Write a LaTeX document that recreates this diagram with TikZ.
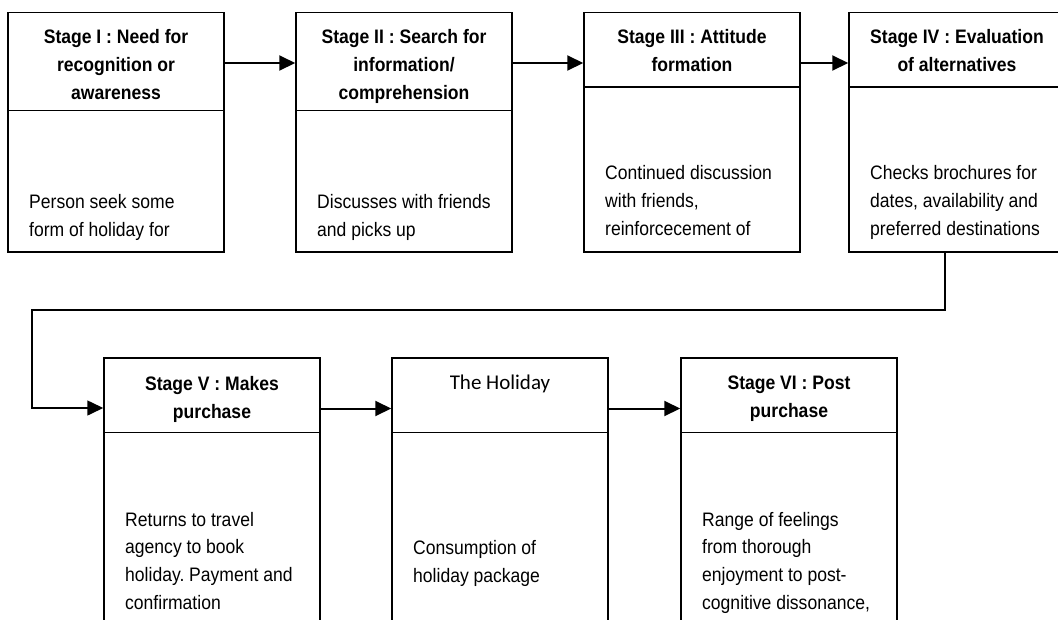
\documentclass[tikz,border=0pt]{standalone}
\usepackage{fontspec}
\newfontfamily\arialn[FakeStretch=0.9]{Liberation Sans}
\newfontfamily\calib{Carlito}
\usetikzlibrary{arrows.meta}
\frenchspacing
\newcommand\clines[1]{\vtop{\baselineskip=28pt\halign{\hfil##\hfil\cr#1\crcr}}}
\newcommand\llines[1]{\vtop{\baselineskip=27.8pt\halign{##\hfil\cr#1\crcr}}}
\tikzset{
  stagebox/.style={draw, line width=1.5pt, minimum width=216pt, inner sep=0pt},
  hdr/.style={inner sep=0pt, anchor=base, font=\arialn\bfseries\fontsize{19.5}{28}\selectfont},
  bodytext/.style={inner sep=0pt, anchor=base west, font=\arialn\fontsize{19.5}{28}\selectfont},
  flow/.style={line width=2pt, -{Triangle[length=16pt,width=15pt]}},
  divider/.style={line width=1.5pt},
}
\begin{document}
\begin{tikzpicture}[x=1pt,y=-1pt]
\useasboundingbox (0,0) rectangle (1058,619);
\clip (0,0) rectangle (1058,619);
% top row boxes
\node[stagebox, minimum height=239.5pt] (s1) at (116,132.25) {};
\node[stagebox, minimum height=239.5pt] (s2) at (404,132.25) {};
\node[stagebox, minimum height=239.5pt] (s3) at (692,132.25) {};
\node[stagebox, minimum height=239.5pt] (s4) at (957,132.25) {};
% bottom row boxes
\node[stagebox, minimum height=292pt] (s5) at (212,504) {};
\node[stagebox, minimum height=292pt] (s6) at (500,504) {};
\node[stagebox, minimum height=292pt] (s7) at (789,504) {};
% dividers
\draw[divider] (s1.west |- 0,110.5) -- (s1.east |- 0,110.5);
\draw[divider] (s2.west |- 0,110.5) -- (s2.east |- 0,110.5);
\draw[divider] (s3.west |- 0,87) -- (s3.east |- 0,87);
\draw[divider] (s4.west |- 0,87) -- (s4.east |- 0,87);
\draw[divider] (s5.west |- 0,432.5) -- (s5.east |- 0,432.5);
\draw[divider] (s6.west |- 0,432.5) -- (s6.east |- 0,432.5);
\draw[divider] (s7.west |- 0,432.5) -- (s7.east |- 0,432.5);
% headers
\node[hdr] (h1) at (116,43) {\clines{Stage I : Need for\cr recognition or\cr awareness}};
\node[hdr] (h2) at (404,43) {\clines{Stage II : Search for\cr information/\cr comprehension}};
\node[hdr] (h3) at (692,43) {\clines{Stage III : Attitude\cr formation}};
\node[hdr] (h4) at (957,43) {\clines{Stage IV : Evaluation\cr of alternatives}};
\node[hdr] (h5) at (212,390) {\clines{Stage V : Makes\cr purchase}};
\node[inner sep=0pt, anchor=base, font=\calib\fontsize{21}{26}\selectfont] (h6) at (500,389) {The Holiday};
\node[hdr] (h7) at (789,389.5) {\clines{Stage VI : Post\cr purchase}};
% body texts
\node[bodytext] (t1) at (29,208.5) {\llines{Person seek some\cr form of holiday for}};
\node[bodytext] (t2) at (317,208.5) {\llines{Discusses with friends\cr and picks up}};
\node[bodytext] (t3) at (605,179.5) {\llines{Continued discussion\cr with friends,\cr reinforcecement of}};
\node[bodytext] (t4) at (870,179.5) {\llines{Checks brochures for\cr dates, availability and\cr preferred destinations}};
\node[bodytext] (t5) at (125,526) {\llines{Returns to travel\cr agency to book\cr holiday. Payment and\cr confirmation}};
\node[bodytext] (t6) at (413,554.5) {\llines{Consumption of\cr holiday package}};
\node[bodytext] (t7) at (702,526) {\llines{Range of feelings\cr from thorough\cr enjoyment to post-\cr cognitive dissonance,}};
% connectors
\draw[flow] (s1.east |- 0,63) -- (s2.west |- 0,63);
\draw[flow] (s2.east |- 0,63) -- (s3.west |- 0,63);
\draw[flow] (s3.east |- 0,63) -- (s4.west |- 0,63);
\coordinate (c1) at (945,310);
\coordinate (c2) at (32,310);
\coordinate (c3) at (32,408);
\draw[flow, line width=1.6pt] (s4.south -| c1) -- (c1) -- (c2) -- (c3) -- (s5.west |- c3);
\draw[flow] (s5.east |- 0,408.5) -- (s6.west |- 0,408.5);
\draw[flow] (s6.east |- 0,408.5) -- (s7.west |- 0,408.5);
\end{tikzpicture}
\end{document}
